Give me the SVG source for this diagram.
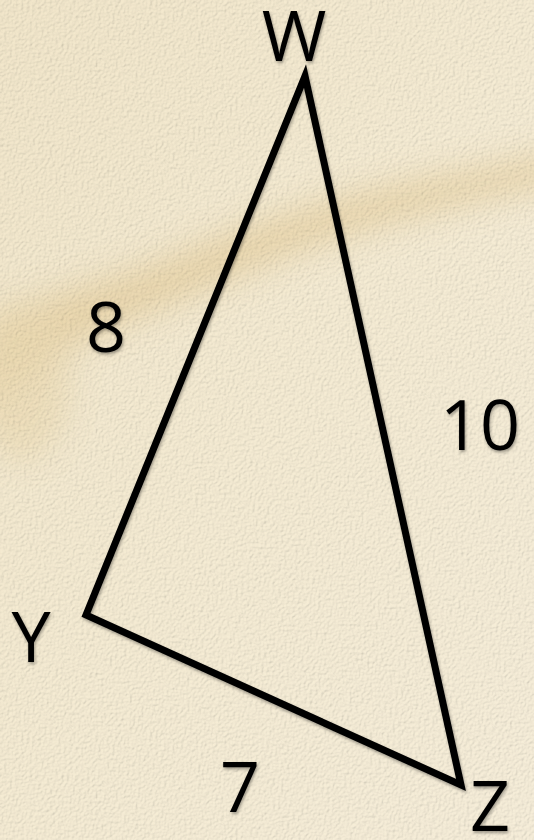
<svg xmlns="http://www.w3.org/2000/svg" width="534" height="840" viewBox="0 0 534 840">
<defs>
<linearGradient id="bg" x1="0" y1="0" x2="1" y2="1">
<stop offset="0" stop-color="#f3e9cf"/>
<stop offset="0.5" stop-color="#f6eed8"/>
<stop offset="1" stop-color="#f7f0de"/>
</linearGradient>
<filter id="blur" x="-20%" y="-50%" width="140%" height="200%"><feGaussianBlur stdDeviation="16"/></filter>
<filter id="tex" x="0" y="0" width="100%" height="100%">
<feTurbulence type="fractalNoise" baseFrequency="0.35" numOctaves="3" seed="4" result="n"/>
<feDiffuseLighting in="n" surfaceScale="1.6" lighting-color="#fffaf0" result="l"><feDistantLight azimuth="225" elevation="55"/></feDiffuseLighting>
<feComposite in="l" in2="SourceGraphic" operator="in"/>
</filter>
<filter id="sh" x="-20%" y="-20%" width="140%" height="140%">
<feDropShadow dx="1" dy="2" stdDeviation="1.5" flood-color="#000" flood-opacity="0.35"/>
</filter>
<style>
.lbl{font-family:"Open Sans","Noto Sans","Liberation Sans",sans-serif;font-size:70px;fill:#000;text-anchor:middle;filter:url(#sh)}
.edge{fill:none;stroke:#000;stroke-width:7;stroke-linejoin:miter}
</style>
</defs>
<rect width="534" height="840" fill="url(#bg)"/>
<g filter="url(#blur)" opacity="0.4">
<path d="M-20 320 C60 290 120 280 200 245 C280 212 360 190 440 175 C490 166 520 160 560 152 L560 185 C500 195 440 210 360 232 C280 255 200 295 120 325 C60 350 20 380 -20 420 Z" fill="#dcbc7c"/>
<ellipse cx="20" cy="380" rx="50" ry="80" fill="#e2c98f" opacity="0.7"/>
</g>
<rect width="534" height="840" fill="#fff" filter="url(#tex)" opacity="0.3" style="mix-blend-mode:multiply"/>
<g id="connectors">
<path class="edge" d="M305 76 L86 615 L461 785 Z" filter="url(#sh)"/>
</g>
<g id="node-W"><text class="lbl" x="294" y="61">W</text></g>
<g id="node-Y"><text class="lbl" x="31" y="662">Y</text></g>
<g id="node-Z"><text class="lbl" x="490" y="831">Z</text></g>
<g id="label-8"><text class="lbl" x="106" y="352">8</text></g>
<g id="label-10"><text class="lbl" x="480" y="450">10</text></g>
<g id="label-7"><text class="lbl" x="240" y="812">7</text></g>
</svg>
